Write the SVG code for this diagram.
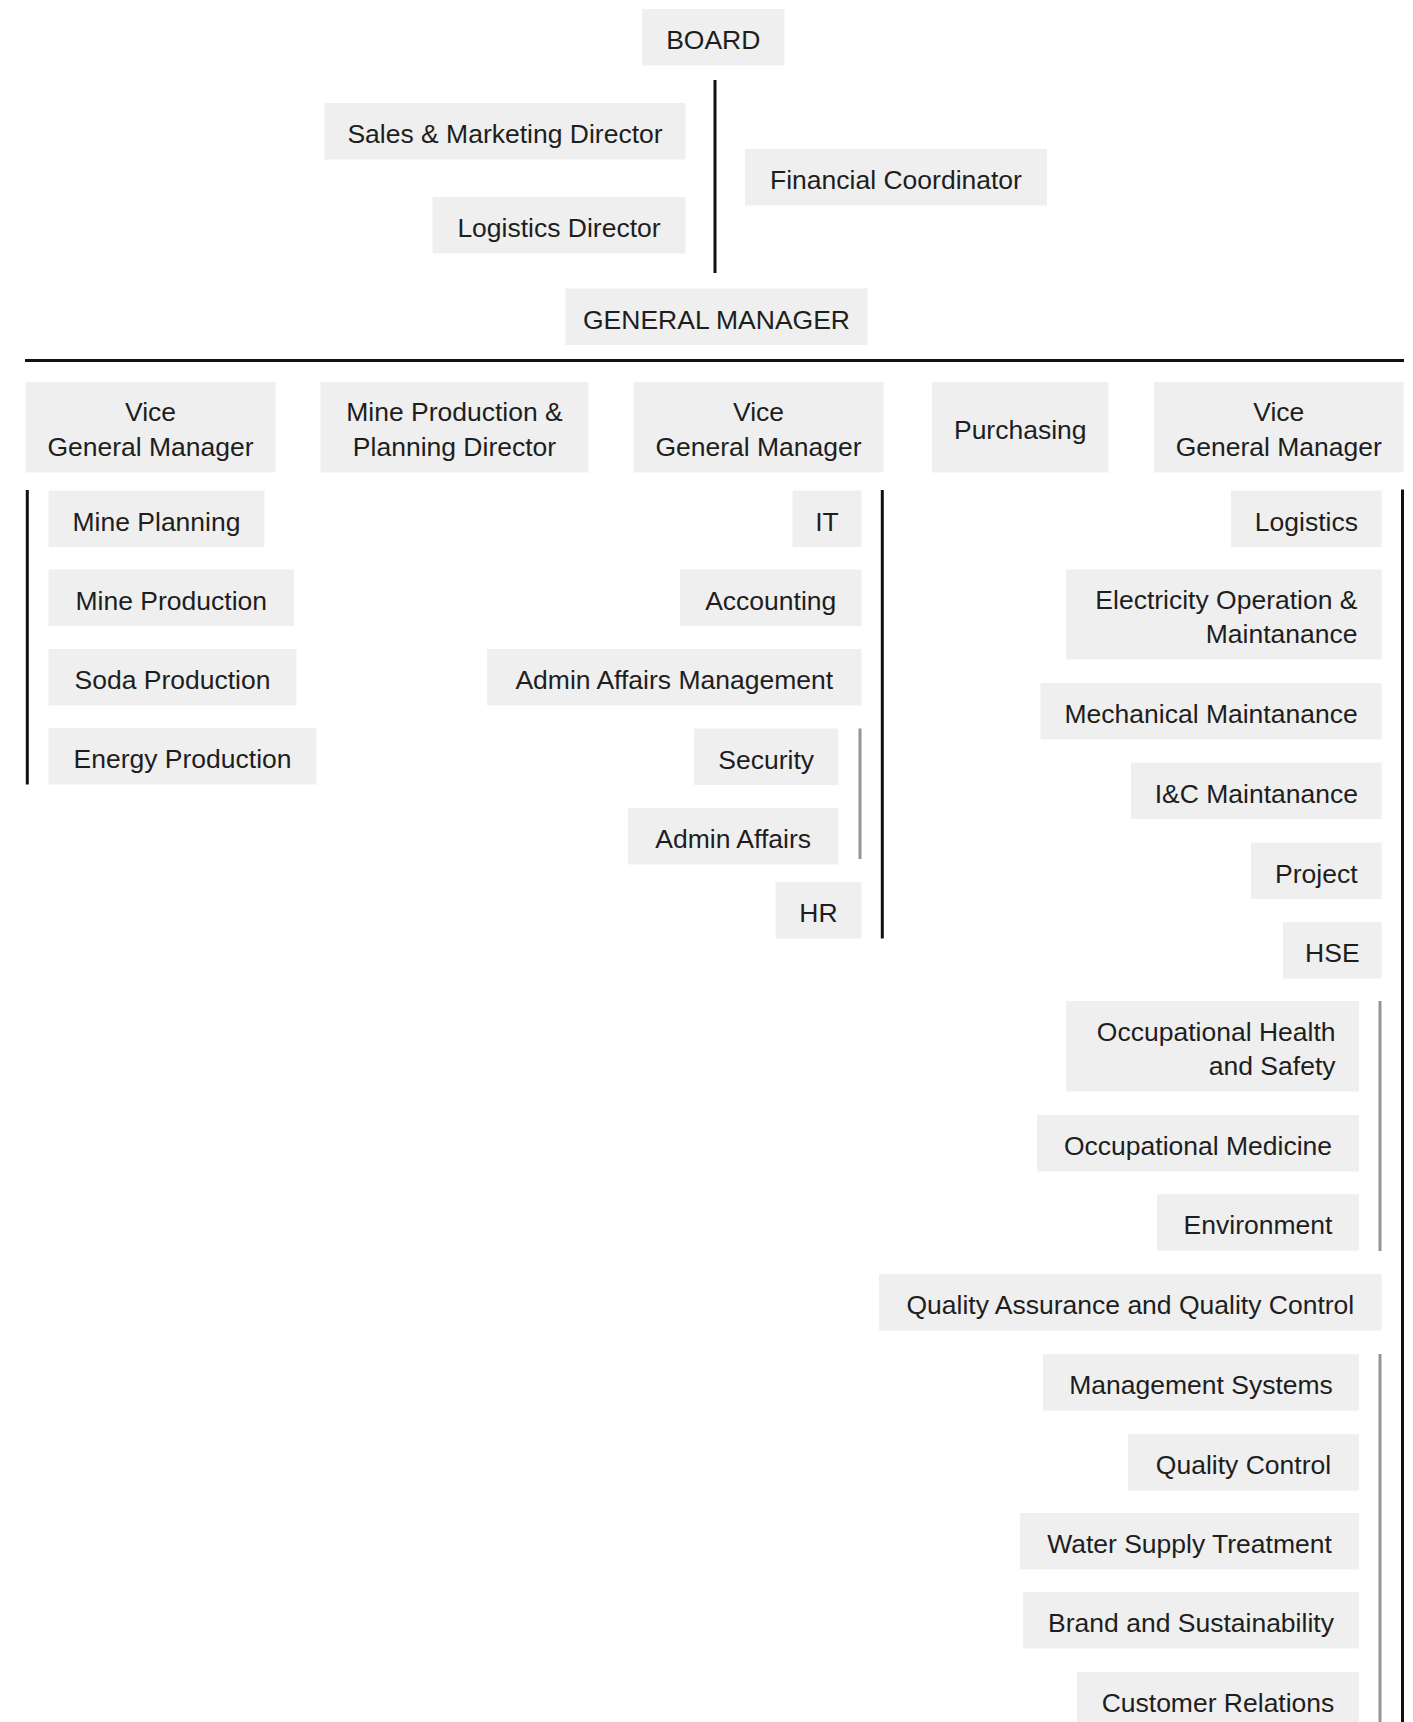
<svg xmlns="http://www.w3.org/2000/svg" width="1413" height="1722" viewBox="0 0 1413 1722">
<style>
.box{fill:#efefef}
.t{font-family:"Liberation Sans",Arial,sans-serif;font-size:26.5px;fill:#1e1e1e;text-anchor:middle}
.r{text-anchor:end}
.main{stroke:#111;stroke-width:3;fill:none}
.sub{stroke:#959595;stroke-width:3;fill:none}
</style>
<rect width="1413" height="1722" fill="#fff"/>
<g id="connectors">
<line class="main" x1="715" y1="80" x2="715" y2="273"/>
<line class="main" x1="25" y1="360.5" x2="1404" y2="360.5"/>
<line class="main" x1="27.3" y1="490" x2="27.3" y2="784.5"/>
<line class="main" x1="882.3" y1="490" x2="882.3" y2="938.5"/>
<line class="sub" x1="860" y1="728.5" x2="860" y2="859"/>
<line class="main" x1="1402.5" y1="489.5" x2="1402.5" y2="1722"/>
<line class="sub" x1="1380" y1="1001" x2="1380" y2="1251"/>
<line class="sub" x1="1380" y1="1354" x2="1380" y2="1722"/>
</g>
<g id="board"><rect class="box" x="642" y="9" width="142.5" height="56.5"/><text class="t" x="713.25" y="49">BOARD</text></g>
<g id="sales-marketing"><rect class="box" x="324.5" y="103" width="361" height="56.5"/><text class="t" x="505" y="143">Sales &amp; Marketing Director</text></g>
<g id="logistics-director"><rect class="box" x="432.5" y="197" width="253" height="56.5"/><text class="t" x="559" y="237">Logistics Director</text></g>
<g id="financial-coordinator"><rect class="box" x="745" y="149" width="302" height="56.5"/><text class="t" x="896" y="189">Financial Coordinator</text></g>
<g id="general-manager"><rect class="box" x="565.5" y="288.5" width="302" height="56.5"/><text class="t" x="716.5" y="328.5">GENERAL MANAGER</text></g>
<g id="vgm1"><rect class="box" x="25.5" y="382" width="250" height="90.5"/><text class="t" x="150.5" y="421">Vice</text><text class="t" x="150.5" y="455.5">General Manager</text></g>
<g id="mine-prod-planning"><rect class="box" x="320.5" y="382" width="268" height="90.5"/><text class="t" x="454.5" y="421">Mine Production &amp;</text><text class="t" x="454.5" y="455.5">Planning Director</text></g>
<g id="vgm2"><rect class="box" x="633.5" y="382" width="250" height="90.5"/><text class="t" x="758.5" y="421">Vice</text><text class="t" x="758.5" y="455.5">General Manager</text></g>
<g id="purchasing"><rect class="box" x="932" y="382" width="176.5" height="90.5"/><text class="t" x="1020.25" y="438.5">Purchasing</text></g>
<g id="vgm3"><rect class="box" x="1154" y="382" width="249.5" height="90.5"/><text class="t" x="1278.75" y="421">Vice</text><text class="t" x="1278.75" y="455.5">General Manager</text></g>
<g id="mine-planning"><rect class="box" x="48.5" y="490.5" width="216" height="56.5"/><text class="t" x="156.5" y="530.5">Mine Planning</text></g>
<g id="mine-production"><rect class="box" x="48.5" y="569.5" width="245.5" height="56.5"/><text class="t" x="171.25" y="609.5">Mine Production</text></g>
<g id="soda-production"><rect class="box" x="48.5" y="649" width="248" height="56.5"/><text class="t" x="172.5" y="689">Soda Production</text></g>
<g id="energy-production"><rect class="box" x="48.5" y="728" width="268" height="56.5"/><text class="t" x="182.5" y="768">Energy Production</text></g>
<g id="it"><rect class="box" x="792.5" y="490.5" width="69" height="56.5"/><text class="t" x="827" y="530.5">IT</text></g>
<g id="accounting"><rect class="box" x="680" y="569.5" width="181.5" height="56.5"/><text class="t" x="770.75" y="609.5">Accounting</text></g>
<g id="admin-affairs-management"><rect class="box" x="487" y="649" width="374.5" height="56.5"/><text class="t" x="674.25" y="689">Admin Affairs Management</text></g>
<g id="security"><rect class="box" x="694" y="728.5" width="144.3" height="56.5"/><text class="t" x="766.15" y="768.5">Security</text></g>
<g id="admin-affairs"><rect class="box" x="628" y="808" width="210.3" height="56.5"/><text class="t" x="733.15" y="848">Admin Affairs</text></g>
<g id="hr"><rect class="box" x="775.5" y="882" width="86" height="56.5"/><text class="t" x="818.5" y="922">HR</text></g>
<g id="logistics"><rect class="box" x="1231" y="490.5" width="150.7" height="56.5"/><text class="t" x="1306.35" y="530.5">Logistics</text></g>
<g id="electricity"><rect class="box" x="1066" y="569.5" width="315.7" height="90"/><text class="t r" x="1357.5" y="609">Electricity Operation &amp;</text><text class="t r" x="1357.5" y="643">Maintanance</text></g>
<g id="mechanical"><rect class="box" x="1040.5" y="683" width="341.2" height="56.5"/><text class="t" x="1211.1" y="723">Mechanical Maintanance</text></g>
<g id="ic"><rect class="box" x="1131" y="762.5" width="250.7" height="56.5"/><text class="t" x="1256.35" y="802.5">I&amp;C Maintanance</text></g>
<g id="project"><rect class="box" x="1251" y="842.5" width="130.7" height="56.5"/><text class="t" x="1316.35" y="882.5">Project</text></g>
<g id="hse"><rect class="box" x="1283" y="922" width="98.7" height="56.5"/><text class="t" x="1332.35" y="962">HSE</text></g>
<g id="ohs"><rect class="box" x="1066" y="1001" width="293" height="90.5"/><text class="t r" x="1335.5" y="1041">Occupational Health</text><text class="t r" x="1335.5" y="1075">and Safety</text></g>
<g id="occ-medicine"><rect class="box" x="1037" y="1115" width="322" height="56.5"/><text class="t" x="1198" y="1155">Occupational Medicine</text></g>
<g id="environment"><rect class="box" x="1157" y="1194" width="202" height="56.5"/><text class="t" x="1258" y="1234">Environment</text></g>
<g id="qaqc"><rect class="box" x="879" y="1274" width="502.7" height="56.5"/><text class="t" x="1130.35" y="1314">Quality Assurance and Quality Control</text></g>
<g id="mgmt-systems"><rect class="box" x="1043" y="1354" width="316" height="56.5"/><text class="t" x="1201" y="1394">Management Systems</text></g>
<g id="quality-control"><rect class="box" x="1128" y="1434" width="231" height="56.5"/><text class="t" x="1243.5" y="1474">Quality Control</text></g>
<g id="water-supply"><rect class="box" x="1020" y="1513" width="339" height="56.5"/><text class="t" x="1189.5" y="1553">Water Supply Treatment</text></g>
<g id="brand"><rect class="box" x="1023" y="1592" width="336" height="56.5"/><text class="t" x="1191" y="1632">Brand and Sustainability</text></g>
<g id="customer-relations"><rect class="box" x="1077" y="1672" width="282" height="56.5"/><text class="t" x="1218" y="1712">Customer Relations</text></g>
</svg>
